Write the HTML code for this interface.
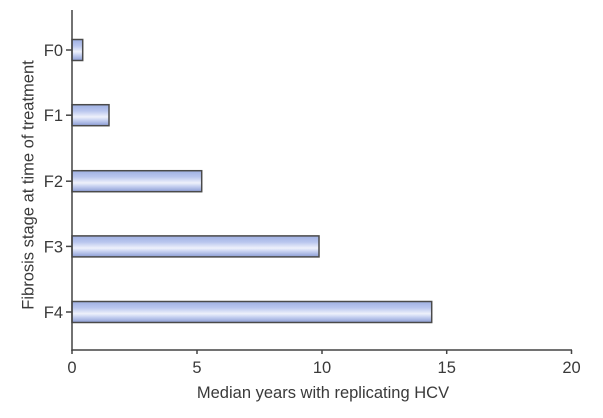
<!DOCTYPE html>
<html>
<head>
<meta charset="utf-8">
<style>
html,body{margin:0;padding:0;background:#fff;}
svg{display:block;}
text{font-family:"Liberation Sans",Arial,sans-serif;fill:#3a3a3a;}
</style>
</head>
<body>
<svg width="603" height="418" viewBox="0 0 603 418" xmlns="http://www.w3.org/2000/svg">
<defs>
<linearGradient id="g" x1="0" y1="0" x2="0" y2="1">
<stop offset="0" stop-color="#9fb0e2"/>
<stop offset="0.3" stop-color="#b9c6ee"/>
<stop offset="0.58" stop-color="#eef1fb"/>
<stop offset="0.75" stop-color="#c4cff0"/>
<stop offset="1" stop-color="#8b9cd4"/>
</linearGradient>
</defs>

<!-- bars -->
<g stroke="#4a4a4a" stroke-width="1.5" fill="url(#g)">
<rect x="72" y="39.5" width="10.7" height="21"/>
<rect x="72" y="104.7" width="37" height="21"/>
<rect x="72" y="170.7" width="129.7" height="21"/>
<rect x="72" y="235.9" width="247" height="21"/>
<rect x="72" y="301.5" width="359.7" height="21"/>
</g>

<!-- axes -->
<g stroke="#444" stroke-width="1.5" fill="none">
<line x1="72" y1="10" x2="72" y2="351"/>
<line x1="71.3" y1="350" x2="572" y2="350"/>
<!-- y ticks -->
<line x1="66" y1="50" x2="72" y2="50"/>
<line x1="66" y1="115.2" x2="72" y2="115.2"/>
<line x1="66" y1="181.2" x2="72" y2="181.2"/>
<line x1="66" y1="246.4" x2="72" y2="246.4"/>
<line x1="66" y1="312" x2="72" y2="312"/>
<!-- x ticks -->
<line x1="72" y1="350" x2="72" y2="354"/>
<line x1="197" y1="350" x2="197" y2="354"/>
<line x1="322" y1="350" x2="322" y2="354"/>
<line x1="446.7" y1="350" x2="446.7" y2="354"/>
<line x1="571.5" y1="350" x2="571.5" y2="354"/>
</g>

<!-- y tick labels -->
<g font-size="16.5" text-anchor="end">
<text x="63" y="56">F0</text>
<text x="63" y="121.2">F1</text>
<text x="63" y="187.2">F2</text>
<text x="63" y="252.4">F3</text>
<text x="63" y="318">F4</text>
</g>

<!-- x tick labels -->
<g font-size="16.5" text-anchor="middle">
<text x="72" y="373">0</text>
<text x="197" y="373">5</text>
<text x="322" y="373">10</text>
<text x="446.7" y="373">15</text>
<text x="571.5" y="373">20</text>
</g>

<text x="323" y="398" font-size="16.5" text-anchor="middle">Median years with replicating HCV</text>
<text transform="translate(33.5,185) rotate(-90)" font-size="16.5" text-anchor="middle">Fibrosis stage at time of treatment</text>
</svg>
</body>
</html>
